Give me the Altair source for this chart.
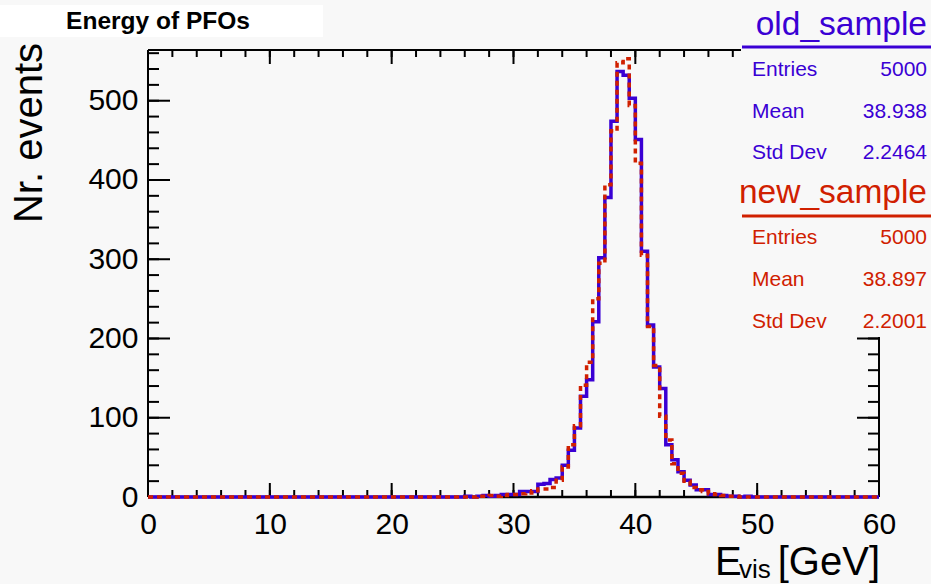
import altair as alt
import pandas as pd

# ---------------- data ----------------
bin_edges_low = [i * 0.5 for i in range(120)]   # 0.5 GeV bins, 0..60
x_end = 60.0

old_counts = [
    0, 0, 0, 0, 0, 0, 0, 0, 0, 0, 0, 0, 0, 0, 0, 0, 0, 0, 0, 0,
    0, 0, 0, 0, 0, 0, 0, 0, 0, 0, 0, 0, 0, 0, 0, 0, 0, 0, 0, 0,
    0, 0, 0, 0, 0, 0, 0, 0, 0, 0, 0, 0, 1, 0, 1, 2, 1, 2, 3, 3,
    3, 7, 7, 7, 16, 17, 22, 24, 40, 59, 87, 127, 148, 221, 302, 378, 474, 537, 532, 503,
    451, 310, 217, 164, 137, 66, 47, 32, 21, 15, 9, 9, 3, 3, 2, 1, 1, 0, 1, 0,
    0, 0, 0, 0, 0, 0, 0, 0, 0, 0, 0, 0, 0, 0, 0, 0, 0, 0, 0, 0,
]
new_counts = [
    0, 0, 0, 0, 0, 0, 0, 0, 0, 0, 0, 0, 0, 0, 0, 0, 0, 0, 0, 0,
    0, 0, 0, 0, 0, 0, 0, 0, 0, 0, 0, 0, 0, 0, 0, 0, 0, 0, 0, 0,
    0, 0, 0, 0, 0, 0, 0, 0, 0, 0, 0, 0, 0, 0, 1, 1, 2, 1, 2, 3,
    3, 4, 5, 8, 10, 10, 12, 21, 38, 66, 90, 141, 170, 250, 295, 394, 462, 548, 553, 494,
    421, 305, 215, 166, 102, 72, 42, 30, 20, 12, 9, 7, 4, 3, 2, 1, 1, 0, 0, 0,
    0, 0, 0, 0, 0, 0, 0, 0, 0, 0, 0, 0, 0, 0, 0, 0, 0, 0, 0, 0,
]

x_labels = [0, 10, 20, 30, 40, 50, 60]
x_minor = [0, 2, 4, 6, 8, 10, 12, 14, 16, 18, 20, 22, 24, 26, 28, 30,
           32, 34, 36, 38, 40, 42, 44, 46, 48, 50, 52, 54, 56, 58, 60]
y_labels = [0, 100, 200, 300, 400, 500]
y_minor = [0, 20, 40, 60, 80, 100, 120, 140, 160, 180, 200, 220, 240, 260,
           280, 300, 320, 340, 360, 380, 400, 420, 440, 460, 480, 500, 520, 540, 560]

old_stats = [("Entries", "5000"), ("Mean", "38.938"), ("Std Dev", "2.2464")]
new_stats = [("Entries", "5000"), ("Mean", "38.897"), ("Std Dev", "2.2001")]

BLUE = "#3a00d4"
RED = "#d02000"
BG = "#f8f8f8"
FONT = "Liberation Sans"

W, H = 731, 447
xs = alt.Scale(domain=[0, 60], nice=False, zero=False)
ys = alt.Scale(domain=[0, 564], nice=False, zero=True)

x_axis = alt.Axis(values=x_labels, labelFontSize=30, labelFont=FONT, labelColor="black",
                  ticks=False, domain=False, grid=False, title=None, labelPadding=12,
                  labelFlush=False, format="d")
y_axis = alt.Axis(values=y_labels, labelFontSize=30, labelFont=FONT, labelColor="black",
                  ticks=False, domain=False, grid=False, title=None, labelPadding=10, format="d")


def hist_df(counts):
    xs_ = list(bin_edges_low) + [x_end]
    cs_ = list(counts) + [counts[-1]]
    return pd.DataFrame({"E": xs_, "n": cs_})


one = pd.DataFrame({"a": [0]})

# ticks
def xticks(vals, y0, y1):
    return alt.Chart(pd.DataFrame({"E": vals})).mark_rule(color="black", strokeWidth=2).encode(
        x=alt.X("E:Q", scale=xs, axis=x_axis), y=alt.value(y0), y2=alt.value(y1))

def yticks(vals, x0, x1):
    return alt.Chart(pd.DataFrame({"n": vals})).mark_rule(color="black", strokeWidth=2).encode(
        y=alt.Y("n:Q", scale=ys, axis=y_axis), x=alt.value(x0), x2=alt.value(x1))

ticks = [
    xticks(x_labels, H, H - 14), xticks(x_minor, H, H - 7),
    xticks(x_labels, 0, 14), xticks(x_minor, 0, 7),
    yticks(y_labels, 0, 22), yticks(y_minor, 0, 11),
    yticks(y_labels, W, W - 22), yticks(y_minor, W, W - 11),
]

frame = [
    alt.Chart(one).mark_rule(color="black", strokeWidth=2).encode(x=alt.value(0), y=alt.value(0), y2=alt.value(H)),
    alt.Chart(one).mark_rule(color="black", strokeWidth=2).encode(x=alt.value(W), y=alt.value(0), y2=alt.value(H)),
    alt.Chart(one).mark_rule(color="black", strokeWidth=2).encode(y=alt.value(0), x=alt.value(0), x2=alt.value(W)),
    alt.Chart(one).mark_rule(color="black", strokeWidth=2.5).encode(y=alt.value(H), x=alt.value(0), x2=alt.value(W)),
]

old_line = alt.Chart(hist_df(old_counts)).mark_line(
    interpolate="step-after", strokeWidth=3.5, color=BLUE).encode(
    x=alt.X("E:Q", scale=xs, axis=x_axis), y=alt.Y("n:Q", scale=ys, axis=y_axis))
new_line = alt.Chart(hist_df(new_counts)).mark_line(
    interpolate="step-after", strokeWidth=3.5, color=RED, strokeDash=[5, 4]).encode(
    x=alt.X("E:Q", scale=xs, axis=x_axis), y=alt.Y("n:Q", scale=ys, axis=y_axis))

# stats box cover
cover = alt.Chart(one).mark_rect(fill=BG).encode(
    x=alt.value(593), x2=alt.value(800), y=alt.value(-60), y2=alt.value(287))

def txt(s, x, y, size, color="black", align="left", baseline="middle", bold=False, angle=0):
    kw = dict(fontSize=size, font=FONT, color=color, align=align, baseline=baseline)
    if bold:
        kw["fontWeight"] = "bold"
    if angle:
        kw["angle"] = angle
    return alt.Chart(one).mark_text(**kw).encode(x=alt.value(x), y=alt.value(y), text=alt.value(s))

stats_layers = [
    txt("old_sample", 779, -25, 33.5, BLUE, align="right"),
    alt.Chart(one).mark_rule(color=BLUE, strokeWidth=3).encode(x=alt.value(594), x2=alt.value(783), y=alt.value(-3)),
    txt("new_sample", 779, 143, 33.5, RED, align="right"),
    alt.Chart(one).mark_rule(color=RED, strokeWidth=3).encode(x=alt.value(594), x2=alt.value(783), y=alt.value(166)),
]
for i, (k, v) in enumerate(old_stats):
    yy = 20 + i * 41.5
    stats_layers.append(txt(k, 604, yy, 21, BLUE))
    stats_layers.append(txt(v, 779, yy, 21, BLUE, align="right"))
for i, (k, v) in enumerate(new_stats):
    yy = 188 + i * 42
    stats_layers.append(txt(k, 604, yy, 21, RED))
    stats_layers.append(txt(v, 779, yy, 21, RED, align="right"))

title_layers = [
    alt.Chart(one).mark_rect(fill="white").encode(
        x=alt.value(-148), x2=alt.value(175), y=alt.value(-45), y2=alt.value(-13)),
    txt("Energy of PFOs", 10, -28, 24.5, "black", align="center", bold=True),
]

axis_titles = [
    txt("Nr. events", -118, 83, 40, "black", align="center", baseline="middle", angle=270),
    txt("E", 567, 525, 40, "black", align="left", baseline="alphabetic"),
    txt("vis", 591, 528, 26, "black", align="left", baseline="alphabetic"),
    txt("[GeV]", 732, 525, 40, "black", align="right", baseline="alphabetic"),
]

chart = alt.layer(
    *frame, *ticks, old_line, new_line, cover, *stats_layers, *title_layers, *axis_titles
).properties(
    width=W, height=H,
    padding={"left": 148, "top": 50, "right": 52, "bottom": 87},
    autosize=alt.AutoSizeParams(type="none"),
    background=BG,
).configure_view(stroke=None, fill=None)

chart.save("out.html", embed_options={"renderer": "svg", "actions": False})
